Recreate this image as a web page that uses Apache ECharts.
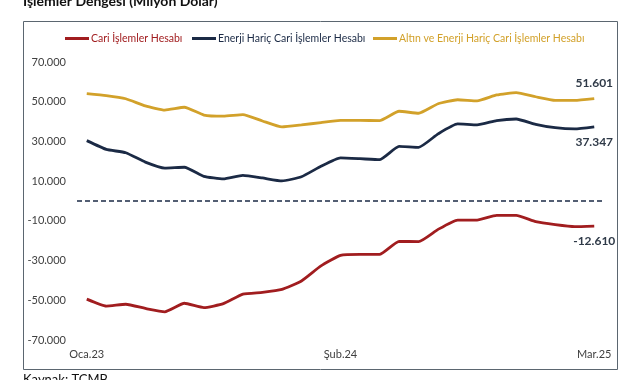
<!DOCTYPE html>
<html>
<head>
<meta charset="utf-8">
<script src="https://cdn.jsdelivr.net/npm/echarts@6/dist/echarts.min.js"></script>
<style>
html,body{margin:0;padding:0;background:#fff;}
#chart{width:641px;height:380px;}
</style>
</head>
<body>
<div id="chart"></div>
<script>
const months = ['Oca.23','Şub.23','Mar.23','Nis.23','May.23','Haz.23','Tem.23','Ağu.23','Eyl.23','Eki.23','Kas.23','Ara.23',
  'Oca.24','Şub.24','Mar.24','Nis.24','May.24','Haz.24','Tem.24','Ağu.24','Eyl.24','Eki.24','Kas.24','Ara.24',
  'Oca.25','Şub.25','Mar.25'];
const shownMonths = ['Oca.23','Şub.24','Mar.25'];
const cariIslemler = [-49400,-52900,-52000,-54100,-55800,-51500,-53700,-51700,-46900,-46000,-44500,-40300,-32700,-27400,-26900,-26900,-20300,-20500,-14300,-9600,-9600,-7200,-7200,-10400,-11900,-12900,-12610];
const enerjiHaric = [30400,26000,24300,19600,16600,17000,12400,11100,12900,11600,10100,12200,17500,21700,21300,20800,27500,27000,33800,38800,38300,40500,41300,38600,36900,36300,37347];
const altinEnerjiHaric = [54100,53100,51500,47900,45800,47200,43300,42700,43500,40300,37300,38300,39500,40600,40600,40500,45200,44200,49000,51000,50400,53400,54600,52500,50700,50700,51601];
const yTicks = [-70000,-50000,-30000,-10000,10000,30000,50000,70000];
const seriesNames = ['Cari İşlemler Hesabı','Enerji Hariç Cari İşlemler Hesabı','Altın ve Enerji Hariç Cari İşlemler Hesabı'];

const RED = '#a11d1f', NAVY = '#1b2a45', GOLD = '#d2a12a';
const FONT = 'Lato';

function fmt(v){
  const s = Math.abs(v).toString().replace(/\B(?=(\d{3})+(?!\d))/g,'.');
  return (v<0?'-':'') + s;
}
function withEndLabel(arr, pos){
  return arr.map((v,i)=> i===arr.length-1 ? {value:v, label:{show:true, position:pos, distance:9,
    formatter:p=>fmt(p.value), fontFamily:FONT, fontWeight:'bold', fontSize:12, color:'#2f3a48'}} : v);
}
function legendAt(left, name, color){
  return {left:left, top:33, itemWidth:24, itemHeight:3, itemGap:0, icon:'rect', padding:0,
    textStyle:{fontFamily:FONT, fontSize:10.5, color:color, padding:[0,0,0,-3]},
    data:[{name:name, itemStyle:{color:color}}]};
}
function lineSeries(name, arr, pos, color, extra){
  return Object.assign({name:name, type:'line', data:withEndLabel(arr,pos), symbol:'circle', symbolSize:0,
    showSymbol:true, showAllSymbol:true, smooth:0.15,
    lineStyle:{color:color, width:2.8}, itemStyle:{color:color}}, extra||{});
}

const chart = echarts.init(document.getElementById('chart'));
chart.setOption({
  animation:false,
  backgroundColor:'#fff',
  graphic:[
    {type:'rect', shape:{x:23.5,y:21.5,width:594,height:348}, style:{fill:'none', stroke:'#5b6670', lineWidth:1}, z:-1},
    {type:'text', left:23, top:-6, style:{text:'İşlemler Dengesi (Milyon Dolar)', font:'bold 14px '+FONT, fill:'#111'}},
    {type:'text', left:23, top:373, style:{text:'Kaynak: TCMB', font:'13px '+FONT, fill:'#111'}}
  ],
  legend:[legendAt(65, seriesNames[0], RED), legendAt(192, seriesNames[1], NAVY), legendAt(373, seriesNames[2], GOLD)],
  grid:{left:77, right:37, top:62, bottom:40, containLabel:false},
  xAxis:{type:'category', data:months, boundaryGap:true,
    axisLine:{show:false}, axisTick:{show:false},
    axisLabel:{interval:0, margin:9, fontFamily:FONT, fontSize:11, color:'#404040',
      formatter:v=> shownMonths.includes(v) ? v : ''}},
  yAxis:{type:'value', min:-70000, max:70000,
    axisLine:{show:false}, axisTick:{show:false}, splitLine:{show:false},
    axisLabel:{customValues:yTicks, margin:11, fontFamily:FONT, fontSize:11, color:'#404040', formatter:v=>fmt(v)}},
  series:[
    lineSeries(seriesNames[0], cariIslemler, 'bottom', RED, {
      markLine:{silent:true, symbol:'none', label:{show:false},
        lineStyle:{color:NAVY, type:[5,3], width:1.5}, data:[{yAxis:0}]}}),
    lineSeries(seriesNames[1], enerjiHaric, 'bottom', NAVY),
    lineSeries(seriesNames[2], altinEnerjiHaric, 'top', GOLD)
  ]
});
</script>
</body>
</html>
